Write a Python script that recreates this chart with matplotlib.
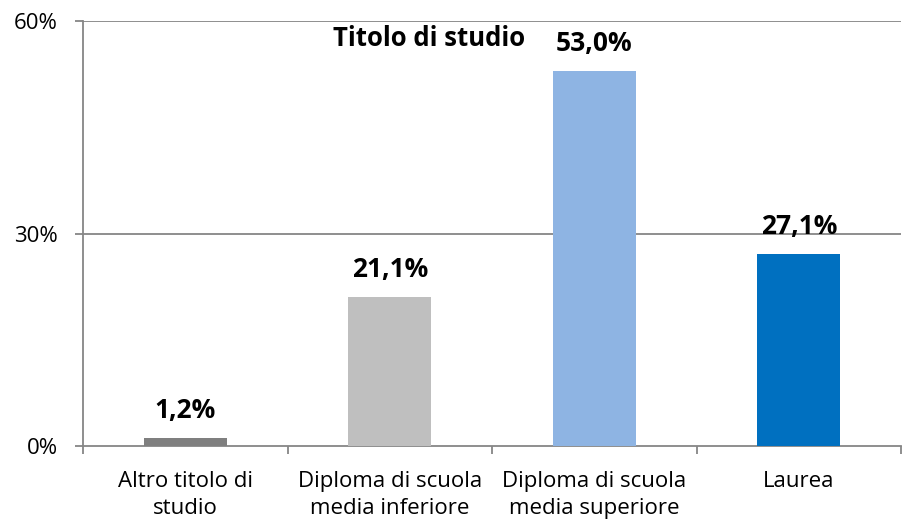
import matplotlib.pyplot as plt
import numpy as np
from matplotlib.ticker import FixedLocator, PercentFormatter

plt.rcParams['font.family'] = ['Open Sans', 'DejaVu Sans']

categories = ['Altro titolo di\nstudio', 'Diploma di scuola\nmedia inferiore',
              'Diploma di scuola\nmedia superiore', 'Laurea']
values = [1.2, 21.1, 53.0, 27.1]
value_labels = ['1,2%', '21,1%', '53,0%', '27,1%']
colors = ['#7f7f7f', '#bfbfbf', '#8eb4e3', '#0070c0']
yticks = [0, 30, 60]

fig = plt.figure(figsize=(9.02, 5.25), dpi=100)
ax = fig.add_axes([83 / 902, 1 - 446 / 525, 818 / 902, 425 / 525])

x = np.arange(len(categories))
ax.bar(x, values, width=0.405, color=colors, zorder=3)

ax.set_xlim(-0.5, len(categories) - 0.5)
ax.set_ylim(0, 60)

# griglia orizzontale
for t in yticks[1:]:
    ax.axhline(t, color='#868686', lw=1.3, zorder=1)

for s in ['top', 'right']:
    ax.spines[s].set_visible(False)
for s in ['left', 'bottom']:
    ax.spines[s].set_color('#868686')
    ax.spines[s].set_linewidth(1.3)

ax.set_yticks(yticks)
ax.yaxis.set_major_formatter(PercentFormatter(decimals=0))
ax.tick_params(axis='y', length=6, width=1.3, color='#868686', pad=12,
               labelsize=16)

ax.set_xticks(x)
ax.set_xticklabels(categories, fontsize=16, linespacing=1.4)
ax.tick_params(axis='x', which='major', length=0, pad=18)
ax.xaxis.set_minor_locator(FixedLocator(np.arange(-0.5, len(categories), 1.0)))
ax.tick_params(axis='x', which='minor', length=6, width=1.3, color='#868686')

for xi, v, lab in zip(x, values, value_labels):
    ax.annotate(lab, (xi, v), xytext=(0, 10), textcoords='offset points',
                ha='center', va='bottom', fontsize=19, fontweight='bold')

ax.text(0.423, 0.96, 'Titolo di studio', transform=ax.transAxes,
        ha='center', va='center', fontsize=18.5, fontweight='bold')

fig.savefig('out.png', dpi=100)
